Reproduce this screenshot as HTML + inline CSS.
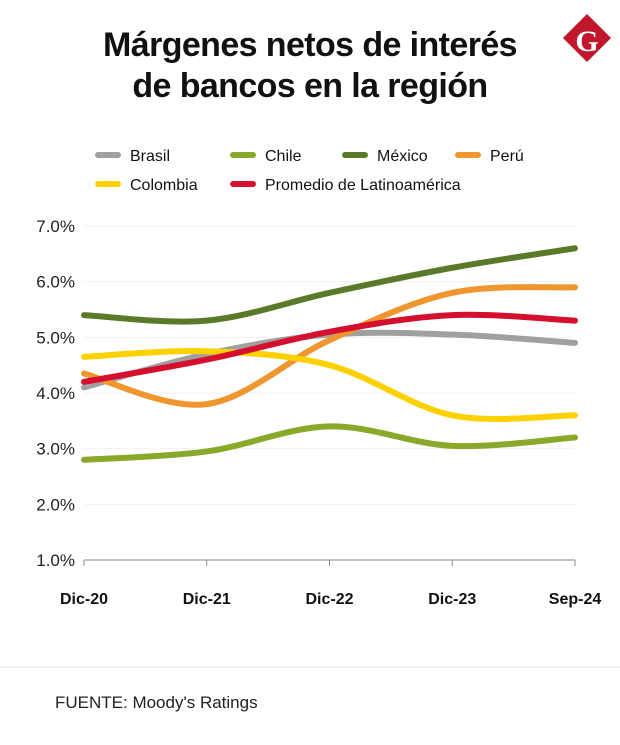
<!DOCTYPE html>
<html><head><meta charset="utf-8"><style>
body{margin:0;background:#fff;font-family:"Liberation Sans",sans-serif;}
#wrap{position:relative;width:620px;height:745px;overflow:hidden;}
</style></head><body>
<div id="wrap">
<svg id="svg" width="620" height="745" xmlns="http://www.w3.org/2000/svg">
  <text x="310" y="56" text-anchor="middle" font-size="34" font-weight="bold" fill="#111" style="letter-spacing:-0.6px">Márgenes netos de interés</text>
  <text x="310" y="97" text-anchor="middle" font-size="34" font-weight="bold" fill="#111" style="letter-spacing:-0.6px">de bancos en la región</text>
  <g>
    <rect x="570" y="21" width="34" height="34" fill="#c0172d" transform="rotate(45 587 38)"/>
    <text x="587" y="51" text-anchor="middle" font-size="30" font-weight="bold" font-family="Liberation Serif,serif" fill="#fff">G</text>
  </g>
  <g id="legend"></g>
  <g id="grid"></g>
  <g id="axes"></g>
  <g id="lines"></g>
  <line x1="0" y1="667" x2="620" y2="667" stroke="#ddd" stroke-width="1"/>
  <text x="55" y="708" font-size="17" fill="#222">FUENTE: Moody's Ratings</text>
</svg>
</div>
<script>
const categories = ["Dic-20","Dic-21","Dic-22","Dic-23","Sep-24"];
const yTicks = [1,2,3,4,5,6,7];
const seriesNames = ["Brasil","Chile","México","Perú","Colombia","Promedio de Latinoamérica"];
const brasil = [4.1,4.7,5.05,5.05,4.9];
const chile = [2.8,2.95,3.4,3.05,3.2];
const mexico = [5.4,5.3,5.8,6.25,6.6];
const peru = [4.35,3.8,4.95,5.8,5.9];
const colombia = [4.65,4.75,4.5,3.6,3.6];
const promedio = [4.2,4.6,5.1,5.4,5.3];

const NS="http://www.w3.org/2000/svg";
const colors=["#a0a0a0","#8aa82a","#5a7a2a","#f0962f","#fdd000","#d5102f"];
const data=[brasil,chile,mexico,peru,colombia,promedio];
const x0=84,x1=575,yTop=226,yBot=560;
function xs(i){return x0+(x1-x0)*i/(categories.length-1);}
function ys(v){return yBot-(v-1)/(7-1)*(yBot-yTop);}
function mk(tag,attrs,parent){const e=document.createElementNS(NS,tag);for(const k in attrs)e.setAttribute(k,attrs[k]);parent.appendChild(e);return e;}
const grid=document.getElementById('grid'),axes=document.getElementById('axes'),lines=document.getElementById('lines'),legend=document.getElementById('legend');
yTicks.forEach(t=>{
  if(t>1){const l=mk('line',{x1:x0,x2:x1,y1:ys(t),y2:ys(t),stroke:'#f2f2f2','stroke-width':1},grid);
  
  }
  const tx=mk('text',{x:75,y:ys(t)+6,'text-anchor':'end','font-size':17,fill:'#222'},axes);
  tx.textContent=t.toFixed(1)+'%';
  
  
});
const ax=mk('line',{x1:x0,x2:x1,y1:yBot,y2:yBot,stroke:'#888','stroke-width':1},axes);


categories.forEach((c,i)=>{
  mk('line',{x1:xs(i),x2:xs(i),y1:yBot,y2:yBot+6,stroke:'#888'},axes);
  const tx=mk('text',{x:xs(i),y:604,'text-anchor':'middle','font-size':16,'font-weight':'bold',fill:'#111'},axes);
  tx.textContent=c;
  
  
});
function pathFor(arr){
  const p=arr.map((v,i)=>[xs(i),ys(v)]);
  let d='M'+p[0][0]+','+p[0][1];
  for(let i=0;i<p.length-1;i++){
    const a=p[i-1]||p[i],b=p[i],c=p[i+1],e=p[i+2]||c;
    const t=0.5/3*2;
    const c1=[b[0]+(c[0]-a[0])*t/2,b[1]+(c[1]-a[1])*t/2];
    const c2=[c[0]-(e[0]-b[0])*t/2,c[1]-(e[1]-b[1])*t/2];
    d+=' C'+c1[0]+','+c1[1]+' '+c2[0]+','+c2[1]+' '+c[0]+','+c[1];
  }
  return d;
}
data.forEach((arr,k)=>{
  const p=mk('path',{d:pathFor(arr),fill:'none',stroke:colors[k],'stroke-width':6,'stroke-linecap':'round'},lines);
  
  
});
const legPos=[[98,155],[233,155],[345,155],[458,155],[98,184],[233,184]];
seriesNames.forEach((n,k)=>{
  const g=mk('g',{},legend);
  
  
  mk('line',{x1:legPos[k][0],x2:legPos[k][0]+20,y1:legPos[k][1],y2:legPos[k][1],stroke:colors[k],'stroke-width':6,'stroke-linecap':'round'},g);
  const t=mk('text',{x:legPos[k][0]+32,y:legPos[k][1]+6,'font-size':16,fill:'#111'},g);
  t.textContent=n;
});
</script>
</body></html>
